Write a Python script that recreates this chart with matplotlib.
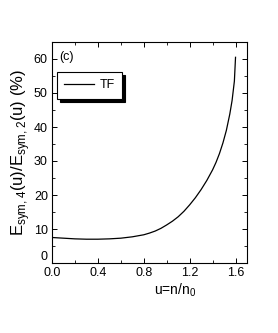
import numpy as np
import matplotlib.pyplot as plt
from matplotlib.ticker import MultipleLocator

plt.rcParams['font.family'] = ['Liberation Sans', 'DejaVu Sans']
plt.rcParams['mathtext.fontset'] = 'custom'
plt.rcParams['mathtext.rm'] = 'Liberation Sans'

u = [0.0, 0.1, 0.2, 0.3, 0.4, 0.5, 0.6, 0.7, 0.8, 0.85, 0.9, 0.95, 1.0, 1.05, 1.1,
     1.15, 1.2, 1.25, 1.3, 1.35, 1.4, 1.43, 1.46, 1.49, 1.52, 1.55, 1.57, 1.59, 1.6]
ratio = [7.5, 7.3, 7.1, 7.0, 7.0, 7.1, 7.3, 7.7, 8.3, 8.8, 9.4, 10.2, 11.2, 12.3, 13.6,
         15.2, 17.1, 19.2, 21.6, 24.3, 27.4, 29.6, 32.2, 35.3, 39.0, 43.8, 47.8, 53.5, 60.5]
yticks = [0, 10, 20, 30, 40, 50, 60]

fig = plt.figure(figsize=(2.78, 3.33), dpi=100)
ax = fig.add_axes([52/278, 1-263/333, (247-52)/278, (263-42)/333])

ax.plot(u, ratio, color='black', lw=0.9, label='TF')

ax.set_xlim(0, 1.7)
ax.set_ylim(0, 65)
ax.xaxis.set_minor_locator(MultipleLocator(0.2))
ax.yaxis.set_minor_locator(MultipleLocator(5))
ax.set_yticks(yticks)
ax.set_xticks([0.0, 0.4, 0.8, 1.2, 1.6])
ax.set_xticklabels(['0.0', '0.4', '0.8', '1.2', '1.6'])
ax.tick_params(which='both', direction='in', top=True, right=True, labelsize=9)
ax.tick_params(axis='x', pad=3)
ax.tick_params(axis='y', pad=3)
ax.tick_params(which='major', length=3.5, width=0.7)
ax.tick_params(which='minor', length=2, width=0.6)
for s in ax.spines.values():
    s.set_linewidth(0.8)
ax.yaxis.get_major_ticks()[0].label1.set_va('bottom')

ax.set_ylabel(r'E$_{\rm sym,4}$(u)/E$_{\rm sym,2}$(u) (%)', fontsize=12, labelpad=1)
ax.set_xlabel(r'u=n/n$_{\rm 0}$', fontsize=10, labelpad=1)
ax.xaxis.set_label_coords(0.63, -0.085)

ax.text(0.035, 0.96, '(c)', transform=ax.transAxes, fontsize=9, va='top', ha='left')

leg = ax.legend(loc='upper left', bbox_to_anchor=(0.025, 0.865), frameon=True, fancybox=False,
                shadow={'facecolor': 'black', 'edgecolor': 'black', 'alpha': 1},
                fontsize=9, handlelength=2.4, handletextpad=0.4,
                borderpad=0.6, borderaxespad=0)
leg.get_frame().set_edgecolor('black')
leg.get_frame().set_linewidth(0.8)
leg.get_frame().set_alpha(1)

fig.savefig('out.png', dpi=100)
